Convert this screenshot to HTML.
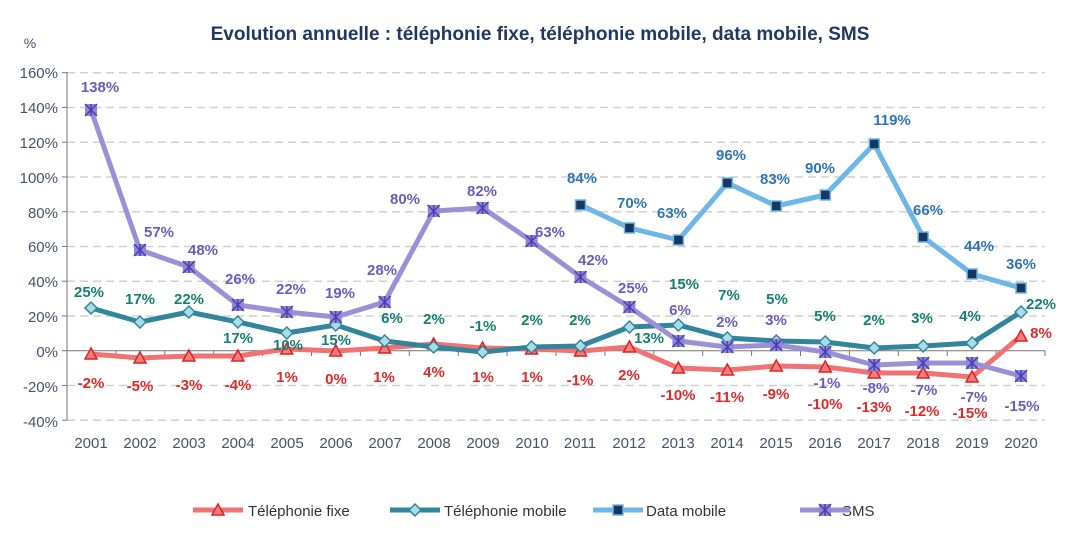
<!DOCTYPE html><html><head><meta charset="utf-8"><style>body{margin:0;background:#fff}svg{display:block;font-family:"Liberation Sans",sans-serif}</style></head><body>
<svg id="s" width="1074" height="534" viewBox="0 0 1074 534">
<text x="540" y="40" text-anchor="middle" font-size="19" font-weight="bold" fill="#1f3864">Evolution annuelle : téléphonie fixe, téléphonie mobile, data mobile, SMS</text>
<text x="30" y="48" text-anchor="middle" font-size="14" fill="#44546a">%</text>
<g font-size="15" fill="#44546a" text-anchor="end">
<text x="58" y="78">160%</text><text x="58" y="113">140%</text><text x="58" y="148">120%</text><text x="58" y="183">100%</text><text x="58" y="218">80%</text><text x="58" y="252">60%</text><text x="58" y="287">40%</text><text x="58" y="322">20%</text><text x="58" y="357">0%</text><text x="58" y="392">-20%</text><text x="58" y="427">-40%</text></g>
<g font-size="15" fill="#44546a" text-anchor="middle">
<text x="91" y="448">2001</text><text x="140" y="448">2002</text><text x="189" y="448">2003</text><text x="238" y="448">2004</text><text x="287" y="448">2005</text><text x="336" y="448">2006</text><text x="385" y="448">2007</text><text x="434" y="448">2008</text><text x="483" y="448">2009</text><text x="532" y="448">2010</text><text x="580" y="448">2011</text><text x="629" y="448">2012</text><text x="678" y="448">2013</text><text x="727" y="448">2014</text><text x="776" y="448">2015</text><text x="825" y="448">2016</text><text x="874" y="448">2017</text><text x="923" y="448">2018</text><text x="972" y="448">2019</text><text x="1021" y="448">2020</text></g>
<g id="grid"></g><g id="series"></g>
<g font-size="15" font-weight="bold" text-anchor="middle" fill="#6a5cc0">
<text x="100" y="92">138%</text><text x="159" y="237">57%</text><text x="203" y="255">48%</text><text x="240" y="284">26%</text><text x="291" y="294">22%</text><text x="340" y="298">19%</text><text x="382" y="275">28%</text><text x="405" y="204">80%</text><text x="482" y="196">82%</text><text x="550" y="237">63%</text><text x="593" y="265">42%</text><text x="633" y="293">25%</text><text x="680" y="315">6%</text><text x="727" y="327">2%</text><text x="776" y="325">3%</text><text x="827" y="388">-1%</text><text x="876" y="393">-8%</text><text x="924" y="395">-7%</text><text x="974" y="402">-7%</text><text x="1022" y="411">-15%</text></g>
<g font-size="15" font-weight="bold" text-anchor="middle" fill="#158070">
<text x="89" y="297">25%</text><text x="140" y="304">17%</text><text x="189" y="304">22%</text><text x="238" y="343">17%</text><text x="288" y="350">10%</text><text x="336" y="345">15%</text><text x="392" y="323">6%</text><text x="434" y="324">2%</text><text x="483" y="331">-1%</text><text x="532" y="325">2%</text><text x="580" y="325">2%</text><text x="649" y="343">13%</text><text x="684" y="289">15%</text><text x="729" y="300">7%</text><text x="777" y="304">5%</text><text x="825" y="321">5%</text><text x="874" y="325">2%</text><text x="922" y="323">3%</text><text x="970" y="321">4%</text><text x="1041" y="309">22%</text></g>
<g font-size="15" font-weight="bold" text-anchor="middle" fill="#e02a2a">
<text x="91" y="388">-2%</text><text x="140" y="391">-5%</text><text x="189" y="390">-3%</text><text x="238" y="390">-4%</text><text x="287" y="382">1%</text><text x="336" y="384">0%</text><text x="384" y="382">1%</text><text x="434" y="377">4%</text><text x="483" y="382">1%</text><text x="532" y="382">1%</text><text x="580" y="385">-1%</text><text x="629" y="380">2%</text><text x="678" y="400">-10%</text><text x="727" y="402">-11%</text><text x="776" y="399">-9%</text><text x="825" y="409">-10%</text><text x="874" y="412">-13%</text><text x="922" y="416">-12%</text><text x="970" y="418">-15%</text><text x="1041" y="338">8%</text></g>
<g font-size="15" font-weight="bold" text-anchor="middle" fill="#2e75b6">
<text x="582" y="183">84%</text><text x="632" y="208">70%</text><text x="672" y="218">63%</text><text x="731" y="160">96%</text><text x="775" y="184">83%</text><text x="820" y="173">90%</text><text x="892" y="125">119%</text><text x="928" y="215">66%</text><text x="979" y="251">44%</text><text x="1021" y="269">36%</text></g>
<g font-size="15" fill="#333">
<text x="248" y="516">Téléphonie fixe</text><text x="444" y="516">Téléphonie mobile</text><text x="646" y="516">Data mobile</text><text x="842" y="516">SMS</text></g>
<g id="leg"></g>
</svg>
<script>
const NS="http://www.w3.org/2000/svg";
function el(p,t,a){const e=document.createElementNS(NS,t);for(const k in a)e.setAttribute(k,a[k]);p.appendChild(e);return e}
const g=document.getElementById('grid'),S=document.getElementById('series'),L=document.getElementById('leg');
for(let i=0;i<=10;i++){const y=72.7+i*34.75;if(i!=8)el(g,'line',{x1:67,x2:1045,y1:y,y2:y,stroke:'#d0d0d0','stroke-width':1.5,'stroke-dasharray':'8,5'});el(g,'line',{x1:62,x2:67,y1:y,y2:y,stroke:'#777'})}
el(g,'line',{x1:67,x2:67,y1:72,y2:420,stroke:'#777'});
el(g,'line',{x1:67,x2:1045,y1:350.7,y2:350.7,stroke:'#777'});
for(let i=0;i<=20;i++){const x=67+i*48.9;el(g,'line',{x1:x,x2:x,y1:350.7,y2:356,stroke:'#777'})}
const X=i=>91+48.95*i;
function marker(p,type,x,y){
 if(type=='tri')el(p,'polygon',{points:`${x},${y-6} ${x+6},${y+5} ${x-6},${y+5}`,fill:'#f08080',stroke:'#e02020','stroke-width':1.5});
 if(type=='dia')el(p,'polygon',{points:`${x},${y-6} ${x+6},${y} ${x},${y+6} ${x-6},${y}`,fill:'#a8dce8',stroke:'#31859c','stroke-width':1.5});
 if(type=='sq')el(p,'rect',{x:x-5,y:y-5,width:10,height:10,fill:'#17375e',stroke:'#6cb6e8','stroke-width':1.5});
 if(type=='x'){el(p,'rect',{x:x-6,y:y-6,width:12,height:12,fill:'#8f86d8'});el(p,'path',{d:`M${x-6},${y-6}L${x+6},${y+6}M${x+6},${y-6}L${x-6},${y+6}M${x},${y-6}V${y+6}`,stroke:'#4a3fb0','stroke-width':1.5})}
}
const ser=[
 {c:'#f07272',m:'tri',o:0,d:[354,358,356,356,349,351,348,344,348,349,351,347,368,370,366,367,373,373,377,336]},
 {c:'#31859c',m:'dia',o:0,d:[308,322,312,322,333,325,341,347,352,347,346,327,325,338,341,342,348,346,343,312]},
 {c:'#6cb6e8',m:'sq',o:10,d:[205,228,240,183,206,195,144,237,274,288]},
 {c:'#9b90d8',m:'x',o:0,d:[110,250,267,305,312,317,302,211,208,241,277,307,341,347,345,352,365,363,363,376]}];
for(const s of ser){const pts=s.d.map((y,i)=>[X(i+s.o),y]);
 el(S,'polyline',{points:pts.map(p=>p.join(',')).join(' '),fill:'none',stroke:s.c,'stroke-width':5,'stroke-linejoin':'round'});
 pts.forEach(p=>marker(S,s.m,p[0],p[1]));}
const lx=[193,390,593,800];
ser.forEach((s,i)=>{el(L,'line',{x1:lx[i],x2:lx[i]+50,y1:510,y2:510,stroke:s.c,'stroke-width':5});marker(L,s.m,lx[i]+25,510)});
</script>
</body></html>
